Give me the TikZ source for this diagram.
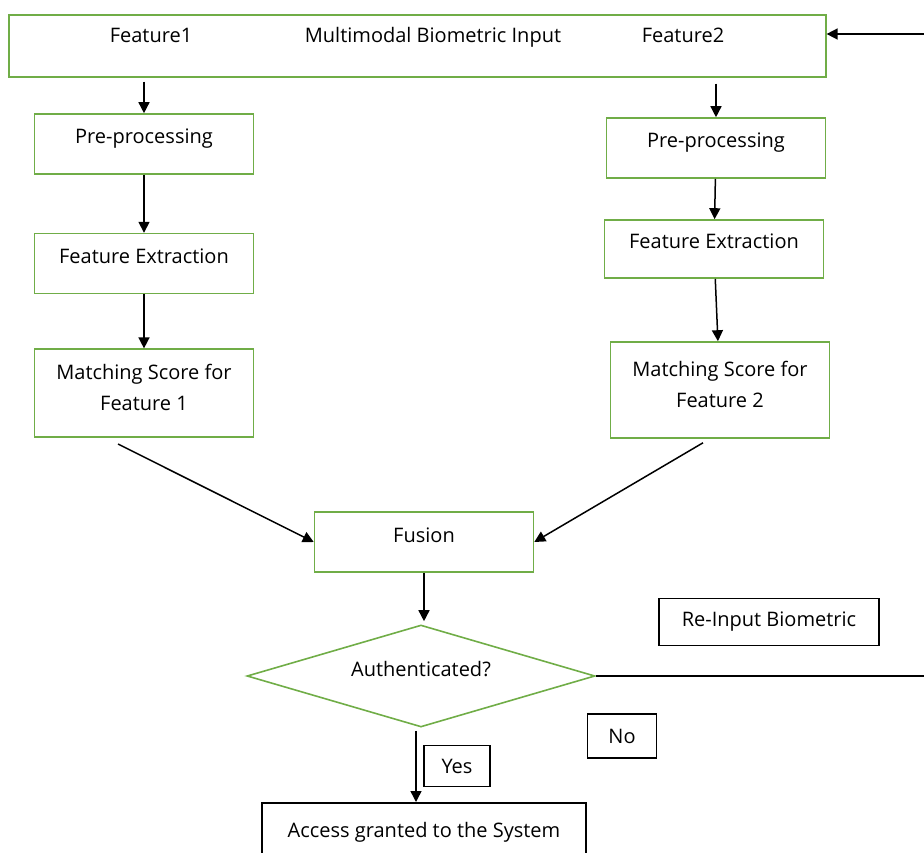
\documentclass[tikz,border=0pt]{standalone}
\usepackage{fontspec}
\setmainfont{Open Sans}
\usetikzlibrary{arrows.meta,positioning,shapes.geometric}
\definecolor{verde}{RGB}{112,173,71}

\begin{document}
\begin{tikzpicture}[
            x=1pt, y=-1pt,
            every node/.style={font=\fontsize{20}{31}\selectfont, align=center, inner sep=2pt},
            caja/.style={draw=verde, line width=1.6pt, text height=15pt, text depth=15pt},
            caja2/.style={draw=verde, line width=1.6pt},
            cajanegra/.style={draw=black, line width=1.5pt},
            rombo/.style={diamond, aspect=3.4, draw=verde, line width=1.6pt, inner sep=0pt,
                text height=15pt, text depth=15pt},
            flecha/.style={-{Triangle[length=11pt,width=11pt]}, line width=1.5pt}
        ]

        \useasboundingbox (0,0) rectangle (924,853);
        \clip (0,0) rectangle (924,853);

        % Caja de entrada (superior), con sus tres textos
        \node[caja2, minimum width=817pt, minimum height=62pt, anchor=north west] (entrada) at (8,14) {};
        \node[anchor=base] (f1) at (151,43) {Feature1};
        \node[anchor=base] (titulo) at (433,43) {Multimodal Biometric Input};
        \node[anchor=base] (f2) at (683,43) {Feature2};

        % Columna izquierda
        \node[caja, minimum width=219pt, minimum height=60pt] (pre1) at (144,144) {Pre-processing};
        \node[caja, minimum width=219pt, minimum height=60pt, below=58pt of pre1] (ext1) {Feature Extraction};
        \node[caja2, minimum width=219pt, minimum height=88pt, below=54pt of ext1] (match1)
        {Matching Score for\\Feature 1\\[-20pt]};

        % Columna derecha
        \node[caja, minimum width=219pt, minimum height=60pt] (pre2) at (716,148) {Pre-processing};
        \node[caja, minimum width=219pt, minimum height=58pt] (ext2) at (714,249) {Feature Extraction};
        \node[caja2, minimum width=219pt, minimum height=96pt] (match2) at (720,390)
        {Matching Score for\\Feature 2\\[-20pt]};

        % Fusion y decision
        \node[caja, minimum width=219pt, minimum height=60pt] (fusion) at (424,542) {Fusion};
        \node[rombo, minimum width=348pt, minimum height=102pt] (decision) at (421,676) {Authenticated?};

        % Cajas negras de la parte baja
        \node[cajanegra, minimum width=220pt, minimum height=47pt] (reinput) at (769,622) {Re-Input Biometric};
        \node[cajanegra, minimum width=69pt, minimum height=44pt] (no) at (622,736) {No};
        \node[cajanegra, minimum width=66pt, minimum height=41pt] (si) at (457,766) {Yes};
        \node[cajanegra, minimum width=324pt, minimum height=60pt, anchor=north] (acceso) at (424,802)
        {Access granted to the System};

        % Punto de retorno, fuera de la imagen por la derecha
        \coordinate (retorno) at (924,34);

        % Flechas de proceso
        \draw[flecha] (retorno) -- (retorno -| entrada.east);
        \draw[flecha] ([yshift=-4pt]entrada.south -| pre1) -- (pre1.north);
        \draw[flecha] (pre1) -- (ext1);
        \draw[flecha] (ext1) -- (match1);
        \draw[flecha] ([yshift=-6pt]entrada.south -| pre2) -- (pre2.north);
        \draw[flecha] (pre2) -- (ext2);
        \draw[flecha] (ext2) -- (match2);

        % Flechas hacia la fusion
        \draw[flecha] ([xshift=-26pt,yshift=-6pt]match1.south) -- (fusion.west);
        \draw[flecha] ([xshift=-17pt,yshift=-4pt]match2.south) -- (fusion.east);
        \draw[flecha] (fusion.south) -- ([yshift=3pt]fusion.south |- decision.north);

        % Salidas de la decision
        \draw[flecha] ([xshift=-5pt,yshift=-3pt]decision.south) -- ([xshift=-5pt]decision.south |- acceso.north);
        \draw[line width=1.5pt] (decision.east) -- (decision.east -| retorno);

    \end{tikzpicture}
\end{document}
